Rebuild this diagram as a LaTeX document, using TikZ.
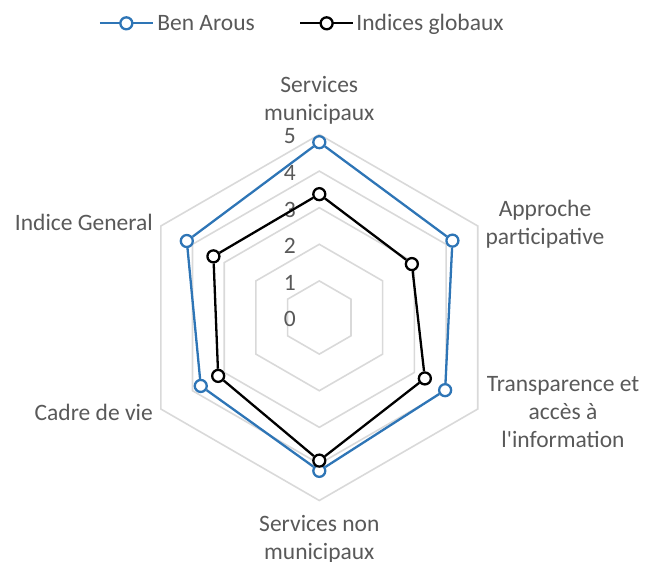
\documentclass[tikz,border=0pt]{standalone}
\usepackage{fontspec}
\setmainfont{Carlito}[Ligatures=TeXOff]
\usepackage{tikz}
\usetikzlibrary{positioning}
\definecolor{sblue}{HTML}{2E75B6}
\definecolor{gridgray}{HTML}{D9D9D9}
\definecolor{labelgray}{HTML}{595959}
\tikzset{
  ring/.style={draw=gridgray,line width=1.6pt,line join=miter},
  scalelabel/.style={anchor=east,inner sep=0pt},
  bline/.style={draw=sblue,line width=2.3pt,line join=round},
  kline/.style={draw=black,line width=2.3pt,line join=round},
  bmark/.style={circle,draw=sblue,fill=white,line width=2.3pt,minimum size=12pt,inner sep=0pt},
  kmark/.style={circle,draw=black,fill=white,line width=2.3pt,minimum size=12pt,inner sep=0pt}
}
\begin{document}
\begin{tikzpicture}[x=36.6pt,y=36.6pt,font=\fontsize{23.5}{28}\selectfont,text=labelgray]
\useasboundingbox (-8.724,-6.680) rectangle (8.926,8.675);

% hexagonal grid
\foreach \r in {1,...,5}{
  \draw[ring] (90:\r) -- (30:\r) -- (-30:\r) -- (-90:\r) -- (-150:\r) -- (150:\r) -- cycle;
}
\foreach \r in {0,...,5}{
  \node[scalelabel] (s\r) at (-0.64,\r-0.05) {\r};
}

% axis labels
\node[align=center] (sm) at (0,5.94) {Services\\municipaux};
\node[align=center] (ap) at (6.167,2.555) {Approche\\participative};
\node[align=center] (ta) at (6.658,-2.582) {Transparence et\\accès à\\l'information};
\node[align=center] (snm) at (0,-6.05) {Services non\\municipaux};
\node[anchor=east,inner sep=0pt] (ig) at (-4.544,2.61) {Indice General};
\node[anchor=east,inner sep=0pt] (cv) at (-4.544,-2.58) {Cadre de vie};

% Ben Arous
\foreach \a/\v [count=\i] in {90/4.79,30/4.2,-30/3.97,-90/4.19,-150/3.74,150/4.18}{
  \node[bmark] (b\i) at (\a:\v) {};
}
\draw[bline] (b1) -- (b2) -- (b3) -- (b4) -- (b5) -- (b6) -- (b1);

% Indices globaux
\foreach \a/\v [count=\i] in {90/3.37,30/2.92,-30/3.33,-90/3.91,-150/3.19,150/3.34}{
  \node[kmark] (k\i) at (\a:\v) {};
}
\draw[kline] (k1) -- (k2) -- (k3) -- (k4) -- (k5) -- (k6) -- (k1);

% legend
\draw[bline] (-5.992,8.038) -- (-4.552,8.038) node[bmark,midway] (lb) {};
\node[anchor=base west,inner sep=0pt] (lbt) at (-4.43,7.828) {Ben Arous};
\draw[kline] (-0.527,8.038) -- (0.929,8.038) node[kmark,midway] (lk) {};
\node[anchor=base west,inner sep=0pt] (lkt) at (1.01,7.828) {Indices globaux};

\end{tikzpicture}
\end{document}
